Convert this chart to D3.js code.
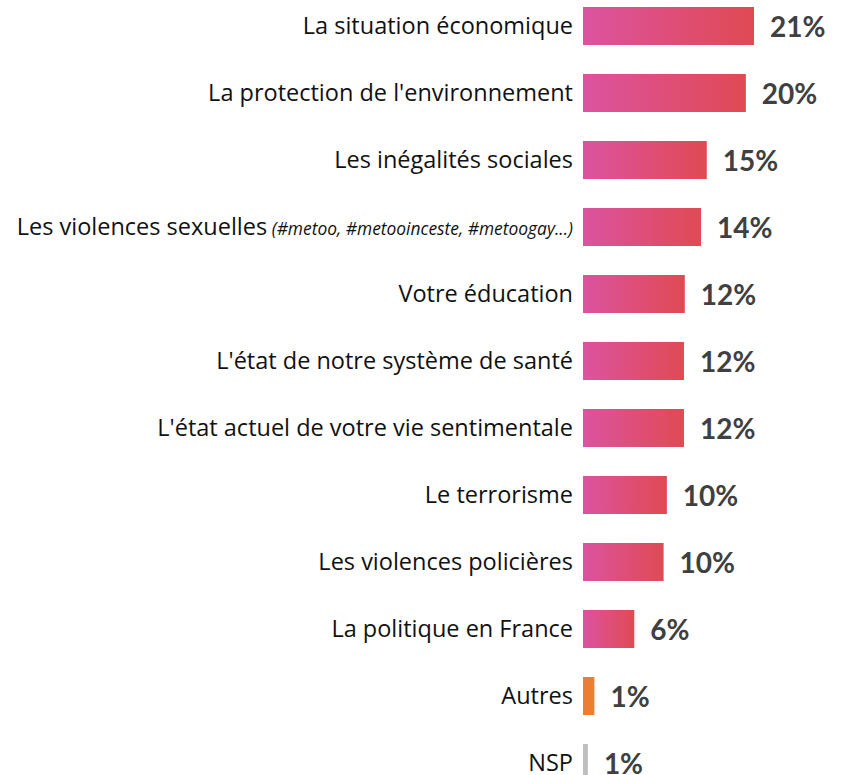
<!DOCTYPE html>
<html>
<head>
<meta charset="utf-8">
<script src="https://cdn.jsdelivr.net/npm/d3@7"></script>
<style>
  body { margin: 0; background: #fff; }
  text { font-family: "Open Sans", "Noto Sans", sans-serif; }
  .value { font-family: Lato, "Open Sans", sans-serif; }
</style>
</head>
<body>
<div id="chart"></div>
<script>
var width = 846,
    height = 775;

// data
var categories = [
  "La situation économique",
  "La protection de l'environnement",
  "Les inégalités sociales",
  "Les violences sexuelles",
  "Votre éducation",
  "L'état de notre système de santé",
  "L'état actuel de votre vie sentimentale",
  "Le terrorisme",
  "Les violences policières",
  "La politique en France",
  "Autres",
  "NSP"
];
var notes = ["", "", "", "(#metoo, #metooinceste, #metoogay...)", "", "", "", "", "", "", "", ""];
var values = [21.0, 20.0, 15.2, 14.5, 12.5, 12.4, 12.4, 10.3, 9.9, 6.3, 1.4, 0.6];
var valueLabels = ["21%", "20%", "15%", "14%", "12%", "12%", "12%", "10%", "10%", "6%", "1%", "1%"];
var kinds = ["main", "main", "main", "main", "main", "main", "main", "main", "main", "main", "other", "nsp"];

var data = categories.map(function(c, i) {
  return { name: c, note: notes[i], value: values[i], label: valueLabels[i], kind: kinds[i] };
});

var svg = d3.select("#chart").append("svg")
    .attr("width", width)
    .attr("height", height);

var defs = svg.append("defs");
var grad = defs.append("linearGradient")
    .attr("id", "barGrad")
    .attr("x1", "0").attr("x2", "1").attr("y1", "0").attr("y2", "0");
grad.append("stop").attr("offset", "0%").attr("stop-color", "#dc53a0");
grad.append("stop").attr("offset", "100%").attr("stop-color", "#e04a53");

var x0 = 583;
var x = d3.scaleLinear().domain([0, 21]).range([x0, 754]);

var step = 67;
var y = d3.scaleBand()
    .domain(categories)
    .range([7 - step * 0.2164, 7 - step * 0.2164 + step * categories.length])
    .paddingInner(29 / 67)
    .paddingOuter(29 / 134);

var fill = { main: "url(#barGrad)", other: "#ed7d31", nsp: "#bfbfbf" };

var row = svg.append("g").selectAll("g")
  .data(data)
  .enter().append("g");

row.append("rect")
  .attr("x", x0)
  .attr("y", function(d) { return y(d.name); })
  .attr("width", function(d) { return x(d.value) - x0; })
  .attr("height", y.bandwidth())
  .attr("fill", function(d) { return fill[d.kind]; });

var cat = row.append("text")
  .attr("x", x0 - 10)
  .attr("y", function(d) { return y(d.name) + y.bandwidth() / 2; })
  .attr("dy", "0.33em")
  .attr("text-anchor", "end")
  .attr("font-size", 23.5)
  .attr("fill", "#111");

cat.append("tspan").text(function(d) { return d.name; });
cat.filter(function(d) { return d.note; })
  .append("tspan")
  .attr("font-style", "italic")
  .attr("font-size", 17.4)
  .text(function(d) { return " " + d.note; });

row.append("text")
  .attr("class", "value")
  .attr("x", function(d) { return x(d.value) + 16; })
  .attr("y", function(d) { return y(d.name) + y.bandwidth() / 2; })
  .attr("dy", "0.4em")
  .attr("font-size", 28)
  .attr("font-weight", "bold")
  .attr("fill", "#404040")
  .text(function(d) { return d.label; });
</script>
</body>
</html>
